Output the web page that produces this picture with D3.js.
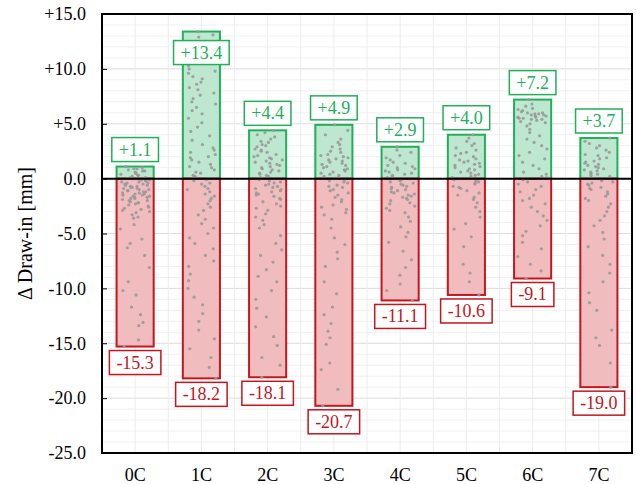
<!DOCTYPE html>
<html>
<head>
<meta charset="utf-8">
<script src="https://cdn.jsdelivr.net/npm/d3@7"></script>
<style>
  body { margin: 0; background: #fff; }
  text { font-family: "Liberation Serif", "Times New Roman", serif; }
</style>
</head>
<body>
<svg id="chart"></svg>
<script>
const categories = ['0C', '1C', '2C', '3C', '4C', '5C', '6C', '7C'];
const maxVals = [1.1, 13.4, 4.4, 4.9, 2.9, 4.0, 7.2, 3.7];
const minVals = [-15.3, -18.2, -18.1, -20.7, -11.1, -10.6, -9.1, -19.0];
const yTicks = [15, 10, 5, 0, -5, -10, -15, -20, -25];

const points0C = [1.1, 1.0, 0.9, 0.9, 0.8, 0.7, 0.7, 0.6, 0.5, 0.5, 0.4, 0.3, 0.3, 0.2, 0.1, 0.1, 0.0, 0.0, -0.1, -0.1, -0.2, -0.2, -0.3, -0.3, -0.4, -0.4, -0.5, -0.5, -0.6, -0.6, -0.7, -0.7, -0.8, -0.8, -0.9, -0.9, -1.0, -1.0, -1.1, -1.1, -1.2, -1.2, -1.3, -1.3, -1.4, -1.4, -1.5, -1.5, -1.6, -1.6, -1.7, -1.7, -1.8, -1.8, -1.9, -2.0, -2.0, -2.1, -2.2, -2.2, -2.3, -2.4, -2.5, -2.6, -2.7, -2.8, -2.9, -3.0, -3.1, -3.3, -3.5, -3.6, -4.2, -4.6, -5.5, -5.9, -6.3, -7.0, -8.1, -9.4, -10.2, -10.6, -11.7, -12.4, -13.1, -13.4, -14.7, -15.3];
const points1C = [13.4, 13.1, 12.9, 12.5, 12.2, 11.8, 11.5, 11.1, 10.8, 10.6, 10.3, 10.0, 9.8, 9.6, 9.3, 9.1, 8.8, 8.6, 8.3, 8.1, 7.8, 7.6, 7.3, 7.0, 6.8, 6.5, 6.2, 5.9, 5.5, 5.1, 4.7, 4.3, 3.9, 3.5, 3.1, 2.8, 2.6, 2.4, 2.2, 2.0, 1.9, 1.7, 1.5, 1.3, 1.1, 1.0, 0.8, 0.6, 0.5, 0.3, 0.2, 0.1, 0.0, -0.1, -0.2, -0.4, -0.5, -0.7, -0.9, -1.0, -1.2, -1.4, -1.6, -1.8, -2.0, -2.3, -2.6, -2.9, -3.3, -3.7, -4.1, -4.5, -5.0, -5.4, -5.9, -6.4, -7.0, -7.5, -8.0, -8.7, -9.3, -10.0, -10.8, -11.5, -12.3, -13.0, -13.8, -14.6, -15.5, -16.3, -17.2, -18.2];
const points2C = [4.4, 4.2, 4.0, 3.8, 3.6, 3.4, 3.3, 3.1, 3.0, 2.9, 2.7, 2.6, 2.5, 2.4, 2.2, 2.1, 2.0, 1.9, 1.8, 1.7, 1.6, 1.5, 1.4, 1.3, 1.2, 1.1, 1.0, 0.9, 0.8, 0.7, 0.6, 0.5, 0.4, 0.3, 0.2, 0.1, 0.0, -0.1, -0.2, -0.3, -0.4, -0.5, -0.6, -0.7, -0.8, -0.9, -1.0, -1.1, -1.2, -1.3, -1.4, -1.5, -1.6, -1.8, -1.9, -2.1, -2.3, -2.5, -2.7, -2.9, -3.2, -3.5, -3.8, -4.2, -4.5, -5.2, -5.9, -6.5, -7.0, -7.6, -8.3, -8.9, -9.4, -10.2, -11.0, -11.8, -12.6, -13.5, -14.4, -15.2, -16.3, -17.0, -18.1];
const points3C = [4.9, 4.4, 4.0, 3.6, 3.3, 3.1, 2.9, 2.7, 2.5, 2.4, 2.2, 2.1, 2.0, 1.9, 1.8, 1.7, 1.6, 1.5, 1.4, 1.3, 1.2, 1.1, 1.0, 0.9, 0.8, 0.7, 0.6, 0.5, 0.4, 0.3, 0.2, 0.1, 0.0, -0.1, -0.2, -0.3, -0.4, -0.6, -0.7, -0.8, -1.0, -1.1, -1.3, -1.5, -1.7, -1.9, -2.1, -2.4, -2.6, -2.8, -3.1, -3.3, -3.7, -4.5, -5.4, -6.0, -6.7, -7.3, -8.0, -9.4, -10.5, -11.7, -12.4, -13.2, -13.9, -14.5, -15.1, -16.8, -17.4, -19.2, -20.7];
const points4C = [2.9, 2.6, 2.4, 2.1, 1.9, 1.7, 1.5, 1.4, 1.2, 1.1, 1.0, 0.9, 0.8, 0.7, 0.6, 0.5, 0.4, 0.3, 0.2, 0.1, 0.0, -0.1, -0.2, -0.3, -0.4, -0.5, -0.6, -0.7, -0.8, -0.9, -1.0, -1.1, -1.2, -1.3, -1.4, -1.5, -1.6, -1.7, -1.8, -1.9, -2.0, -2.2, -2.3, -2.5, -2.7, -2.9, -3.1, -3.5, -3.9, -4.4, -4.9, -5.3, -5.8, -6.6, -7.4, -8.1, -8.8, -9.6, -10.2, -11.1];
const points5C = [4.0, 3.7, 3.4, 3.2, 3.0, 2.8, 2.6, 2.4, 2.3, 2.1, 2.0, 1.8, 1.7, 1.6, 1.5, 1.4, 1.3, 1.2, 1.1, 1.0, 0.9, 0.8, 0.7, 0.6, 0.5, 0.4, 0.3, 0.2, 0.1, 0.0, -0.1, -0.2, -0.3, -0.4, -0.5, -0.7, -0.8, -0.9, -1.1, -1.3, -1.5, -1.7, -1.9, -2.2, -2.6, -3.0, -3.5, -4.1, -4.6, -5.3, -6.2, -7.8, -8.6, -9.4, -10.6];
const points6C = [7.2, 6.8, 6.6, 6.4, 6.3, 6.2, 6.1, 6.0, 6.0, 5.9, 5.9, 5.8, 5.8, 5.7, 5.7, 5.6, 5.6, 5.5, 5.5, 5.4, 5.4, 5.3, 5.2, 5.1, 5.0, 4.8, 4.5, 4.2, 3.9, 3.6, 3.3, 3.0, 2.7, 2.4, 2.1, 1.8, 1.5, 1.2, 0.9, 0.6, 0.4, 0.2, 0.1, -0.1, -0.3, -0.5, -0.7, -1.0, -1.2, -1.5, -1.8, -2.0, -2.3, -2.6, -3.0, -3.4, -3.8, -4.3, -4.8, -5.2, -5.8, -6.4, -7.1, -7.8, -8.4, -9.1];
const points7C = [3.7, 3.4, 3.2, 3.0, 2.8, 2.6, 2.4, 2.2, 2.1, 1.9, 1.8, 1.6, 1.5, 1.4, 1.3, 1.2, 1.1, 1.0, 0.9, 0.8, 0.7, 0.6, 0.5, 0.4, 0.3, 0.2, 0.1, 0.0, -0.1, -0.2, -0.3, -0.4, -0.5, -0.6, -0.8, -0.9, -1.0, -1.2, -1.4, -1.6, -1.8, -2.0, -2.3, -2.6, -3.0, -3.4, -3.8, -4.3, -4.9, -5.5, -6.2, -7.0, -7.8, -8.6, -9.4, -10.4, -11.3, -12.0, -13.8, -14.5, -15.2, -16.8, -19.0];
const pointSets = [points0C, points1C, points2C, points3C, points4C, points5C, points6C, points7C];

const width = 636, height = 484;
const margin = { top: 14, right: 4, bottom: 31, left: 102 };
const innerW = width - margin.left - margin.right;
const innerH = height - margin.top - margin.bottom;
const fontSize = 18;

const green = '#21b05a', greenFill = '#bde8cf';
const red = '#c3161e', redFill = '#f1bcbe';

const svg = d3.select('#chart').attr('width', width).attr('height', height);
const chart = svg.append('g').attr('transform', `translate(${margin.left},${margin.top})`);

const x = d3.scaleBand().domain(categories).range([0, innerW]).paddingInner(0.44).paddingOuter(0.22);
const y = d3.scaleLinear().domain([-25, 15]).range([innerH, 0]);
const step = x.step();
const x0 = x(categories[0]) + x.bandwidth() / 2 - step / 2;

// grid: minor every 1 mm, major every 5 mm, verticals at half steps
const grid = chart.append('g');
grid.selectAll('.hminor').data(d3.range(-25, 16, 1)).join('line')
  .attr('x1', 0).attr('x2', innerW)
  .attr('y1', d => y(d)).attr('y2', d => y(d))
  .attr('stroke', d => d % 5 === 0 ? '#dcdcdc' : '#f0f0f0').attr('stroke-width', 1);
grid.selectAll('.vline').data(d3.range(0, categories.length * 2 + 1)).join('line')
  .attr('x1', d => x0 + step * d / 2).attr('x2', d => x0 + step * d / 2)
  .attr('y1', 0).attr('y2', innerH)
  .attr('stroke', '#ececec');

// bars
chart.selectAll('.pos').data(categories).join('rect')
  .attr('x', d => x(d)).attr('width', x.bandwidth())
  .attr('y', (d, i) => y(maxVals[i])).attr('height', (d, i) => y(0) - y(maxVals[i]))
  .attr('fill', greenFill).attr('stroke', green).attr('stroke-width', 2);
chart.selectAll('.neg').data(categories).join('rect')
  .attr('x', d => x(d)).attr('width', x.bandwidth())
  .attr('y', y(0)).attr('height', (d, i) => y(minVals[i]) - y(0))
  .attr('fill', redFill).attr('stroke', red).attr('stroke-width', 2);

// jittered points (horizontal spread only, hashed from the index)
const hash = n => { const s = Math.sin(n * 12.9898 + 78.233) * 43758.5453; return s - Math.floor(s); };
const pts = [];
pointSets.forEach((set, ci) => set.forEach((v, i) => {
  pts.push({ cat: categories[ci], v: v, off: (hash(ci * 131 + i) - 0.5) * x.bandwidth() * 0.8 });
}));
chart.selectAll('.pt').data(pts).join('circle')
  .attr('cx', d => x(d.cat) + x.bandwidth() / 2 + d.off)
  .attr('cy', d => y(d.v))
  .attr('r', 1.6).attr('fill', '#999').attr('fill-opacity', 0.9);

// zero line
chart.append('line').attr('x1', 0).attr('x2', innerW).attr('y1', y(0)).attr('y2', y(0))
  .attr('stroke', '#000').attr('stroke-width', 2);

// value labels
function addLabel(cat, val, isPos) {
  const col = isPos ? green : red;
  const txt = (val > 0 ? '+' : '') + val.toFixed(1);
  const cx = x(cat) + x.bandwidth() / 2;
  const g = chart.append('g');
  const t = g.append('text').attr('x', cx).attr('text-anchor', 'middle')
    .attr('font-size', fontSize).attr('fill', col).text(txt);
  const bw = t.node().getComputedTextLength() + 14, bh = 24;
  let by = isPos ? y(val) - 5 - bh : y(val) + 4;
  if (by < 0) by = y(val) + 9;   // keep inside the plot
  t.attr('y', by + bh / 2 + 6);
  g.insert('rect', 'text').attr('x', cx - bw / 2).attr('y', by).attr('width', bw).attr('height', bh)
    .attr('fill', '#fff').attr('stroke', col).attr('stroke-width', 1.5);
}
categories.forEach((c, i) => { addLabel(c, maxVals[i], true); addLabel(c, minVals[i], false); });

// frame
chart.append('rect').attr('width', innerW).attr('height', innerH)
  .attr('fill', 'none').attr('stroke', '#000').attr('stroke-width', 2);

// axes
const yAxis = d3.axisLeft(y).tickValues(yTicks).tickSize(-5).tickPadding(16)
  .tickFormat(d => (d > 0 ? '+' : '') + d.toFixed(1));
chart.append('g').call(yAxis).call(g => g.select('.domain').remove())
  .call(g => g.selectAll('text').attr('font-size', fontSize).attr('fill', '#000'))
  .call(g => g.selectAll('line').attr('stroke', '#000'));

const xAxis = d3.axisBottom(x).tickSize(0).tickPadding(15);
chart.append('g').attr('transform', `translate(0,${innerH})`).call(xAxis)
  .call(g => g.select('.domain').remove())
  .call(g => g.selectAll('text').attr('font-size', fontSize).attr('fill', '#000'));

svg.append('text')
  .attr('transform', `translate(32,${margin.top + innerH / 2}) rotate(-90)`)
  .attr('text-anchor', 'middle').attr('font-size', 20).attr('fill', '#000')
  .text('Δ Draw-in [mm]');
</script>
</body>
</html>
